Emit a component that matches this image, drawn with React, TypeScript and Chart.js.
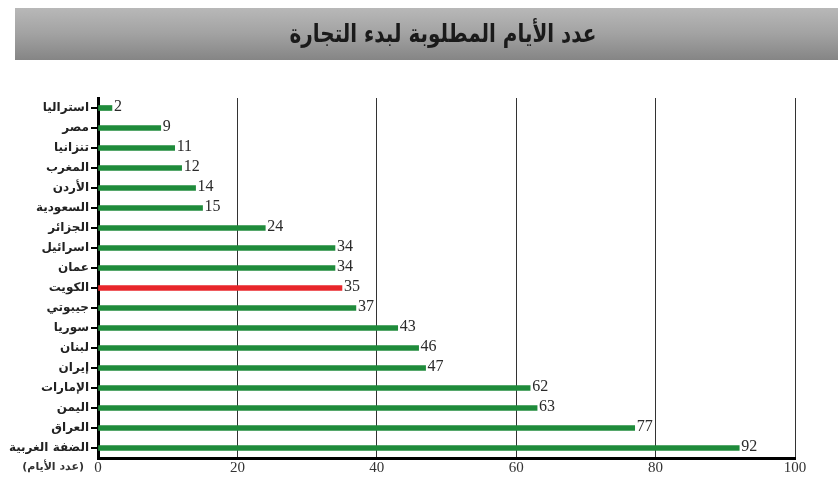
import React, { useEffect, useRef } from "react";
import { Chart, registerables } from "chart.js";

Chart.register(...registerables);

const title = "عدد الأيام المطلوبة لبدء التجارة";
const axisTitle = "(عدد الأيام)";
const countries = [
  "استراليا", "مصر", "تنزانيا", "المغرب", "الأردن", "السعودية", "الجزائر", "اسرائيل", "عمان",
  "الكويت", "جيبوتي", "سوريا", "لبنان", "إيران", "الإمارات", "اليمن", "العراق", "الضفة الغربية",
];
const days = [2, 9, 11, 12, 14, 15, 24, 34, 34, 35, 37, 43, 46, 47, 62, 63, 77, 92];
const highlight = "الكويت";
const xTicks = [0, 20, 40, 60, 80, 100];

const GREEN = "#1f8b3b";
const RED = "#e8262b";

const decorPlugin = {
  id: "decor",
  beforeDraw(chart: any) {
    const ctx = chart.ctx;
    ctx.save();
    ctx.fillStyle = "#ffffff";
    ctx.fillRect(0, 0, chart.width, chart.height);
    const g = ctx.createLinearGradient(0, 8, 0, 60);
    g.addColorStop(0, "#b8b8b8");
    g.addColorStop(0.5, "#a2a2a2");
    g.addColorStop(1, "#858585");
    ctx.fillStyle = g;
    ctx.fillRect(15, 8, chart.width - 15, 52);
    ctx.fillStyle = "#1a1a1a";
    ctx.font = "bold 24px 'DejaVu Sans Condensed', 'DejaVu Sans'";
    ctx.textAlign = "center";
    ctx.textBaseline = "middle";
    ctx.direction = "rtl";
    const w = ctx.measureText(title).width;
    const target = 307;
    ctx.translate(443, 35);
    ctx.scale(Math.min(1, target / w), 1.05);
    ctx.fillText(title, 0, 0);
    ctx.restore();
  },
  afterDatasetsDraw(chart: any) {
    const ctx = chart.ctx;
    const meta = chart.getDatasetMeta(0);
    ctx.save();
    ctx.fillStyle = "#2a2a2a";
    ctx.font = "16px 'Liberation Serif'";
    ctx.textAlign = "left";
    ctx.textBaseline = "middle";
    meta.data.forEach((el: any, i: number) => {
      ctx.fillText(String(days[i]), el.x + 2, el.y - 1);
    });
    ctx.restore();
  },
  afterDraw(chart: any) {
    const ctx = chart.ctx;
    const area = chart.chartArea;
    ctx.save();
    ctx.fillStyle = "#333";
    ctx.font = "bold 11px 'DejaVu Sans'";
    ctx.textAlign = "right";
    ctx.textBaseline = "middle";
    ctx.direction = "rtl";
    ctx.fillText(axisTitle, area.left - 14, area.bottom + 9);
    ctx.restore();
  },
};

export default function App() {
  const ref = useRef<HTMLCanvasElement>(null);
  useEffect(() => {
    const chart = new Chart(ref.current!, {
      type: "bar",
      data: {
        labels: countries,
        datasets: [
          {
            data: days,
            backgroundColor: countries.map((c) => (c === highlight ? RED : GREEN)),
            barThickness: 5,
            borderWidth: 0,
          },
        ],
      },
      options: {
        indexAxis: "y",
        animation: false,
        responsive: false,
        maintainAspectRatio: false,
        layout: { padding: { top: 98, right: 43, left: 0, bottom: 0 } },
        plugins: { legend: { display: false }, tooltip: { enabled: false }, title: { display: false } },
        scales: {
          x: {
            min: 0,
            max: 100,
            afterBuildTicks: (s: any) => {
              s.ticks = xTicks.map((v) => ({ value: v }));
            },
            afterFit: (s: any) => {
              s.height = 26;
            },
            grid: { color: "#333", lineWidth: 1, drawTicks: false },
            border: { color: "#000", width: 3 },
            ticks: { color: "#333", font: { family: "'Liberation Serif'", size: 15 }, padding: 1 },
          },
          y: {
            afterFit: (s: any) => {
              s.width = 98;
            },
            grid: { drawOnChartArea: false, drawTicks: true, tickLength: 7, color: "#000", lineWidth: 2, offset: false },
            border: { color: "#000", width: 3 },
            ticks: { color: "#222", font: { family: "'DejaVu Sans'", size: 12, weight: "bold" }, padding: 2, autoSkip: false },
          },
        },
      },
      plugins: [decorPlugin],
    });
    return () => chart.destroy();
  }, []);
  return (
    <div style={{ position: "fixed", left: 0, top: 0, width: 838, height: 484 }}>
      <canvas ref={ref} width={838} height={484} style={{ width: 838, height: 484 }} />
    </div>
  );
}
